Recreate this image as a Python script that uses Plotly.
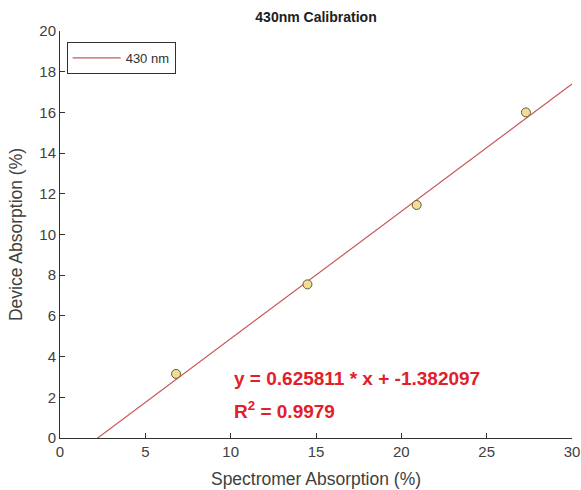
import plotly.graph_objects as go

# measured calibration points
spec_abs = [6.8, 14.5, 20.9, 27.3]
device_abs = [3.15, 7.55, 11.45, 16.0]

# linear fit reported on the chart
slope = 0.625811
intercept = -1.382097
r_squared = 0.9979
fit_x = [0, 30]
fit_y = [slope * v + intercept for v in fit_x]

x_ticks = [0, 5, 10, 15, 20, 25, 30]
y_ticks = [0, 2, 4, 6, 8, 10, 12, 14, 16, 18, 20]

font_family = "Liberation Sans, Arial, sans-serif"
line_color = "#c8585a"

fig = go.Figure()

fig.add_trace(go.Scatter(
    x=fit_x, y=fit_y,
    mode="lines",
    line=dict(color=line_color, width=1.2),
    name="430 nm",
    showlegend=True
))

fig.add_trace(go.Scatter(
    x=spec_abs, y=device_abs,
    mode="markers",
    marker=dict(symbol="circle", size=9, color="#f2dc96",
                line=dict(color="#5e5e3a", width=1)),
    showlegend=False
))

# equation text
eq_font = dict(family=font_family, size=19, color="#e0202a", weight="bold")
fig.add_annotation(
    x=10.1, y=2.9, xref="x", yref="y",
    text=f"y = {slope:.6f} * x + {intercept:.6f}",
    showarrow=False, xanchor="left", yanchor="middle",
    font=eq_font
)
fig.add_annotation(
    x=10.1, y=1.38, xref="x", yref="y",
    text=f"R<sup>2</sup> = {r_squared}",
    showarrow=False, xanchor="left", yanchor="middle",
    font=eq_font
)

fig.update_layout(
    width=581, height=490,
    paper_bgcolor="white",
    plot_bgcolor="white",
    margin=dict(l=59.5, r=8.5, t=31, b=52),
    font=dict(family=font_family, size=15, color="#404040"),
    title=dict(
        text="<b>430nm Calibration</b>",
        x=0.5, xanchor="center", xref="paper",
        y=0.965, yref="container", yanchor="middle",
        font=dict(family=font_family, size=14, color="#202020")
    ),
    legend=dict(
        x=0.013, y=0.973, xanchor="left", yanchor="top",
        bgcolor="white", bordercolor="#303030", borderwidth=1,
        font=dict(family=font_family, size=13, color="#303030"),
        itemwidth=48
    )
)

fig.update_xaxes(
    range=[0, 30], tickvals=x_ticks, automargin=False,
    showgrid=False, zeroline=False,
    showline=True, linecolor="#303030", linewidth=1,
    ticks="inside", ticklen=5, tickcolor="#303030",
    title=dict(text="Spectromer Absorption (%)", standoff=13,
               font=dict(family=font_family, size=17.5, color="#404040"))
)
fig.update_yaxes(
    range=[0, 20], tickvals=y_ticks, automargin=False,
    showgrid=False, zeroline=False,
    showline=True, linecolor="#303030", linewidth=1,
    ticks="inside", ticklen=5, tickcolor="#303030",
    title=dict(text="Device Absorption (%)", standoff=12,
               font=dict(family=font_family, size=17.5, color="#404040"))
)

# drop the page's default body margin so the figure fills the window
fig.write_html(
    "out.html",
    config={"displayModeBar": False},
    post_script="document.body.style.margin='0';document.body.style.overflow='hidden';"
)
